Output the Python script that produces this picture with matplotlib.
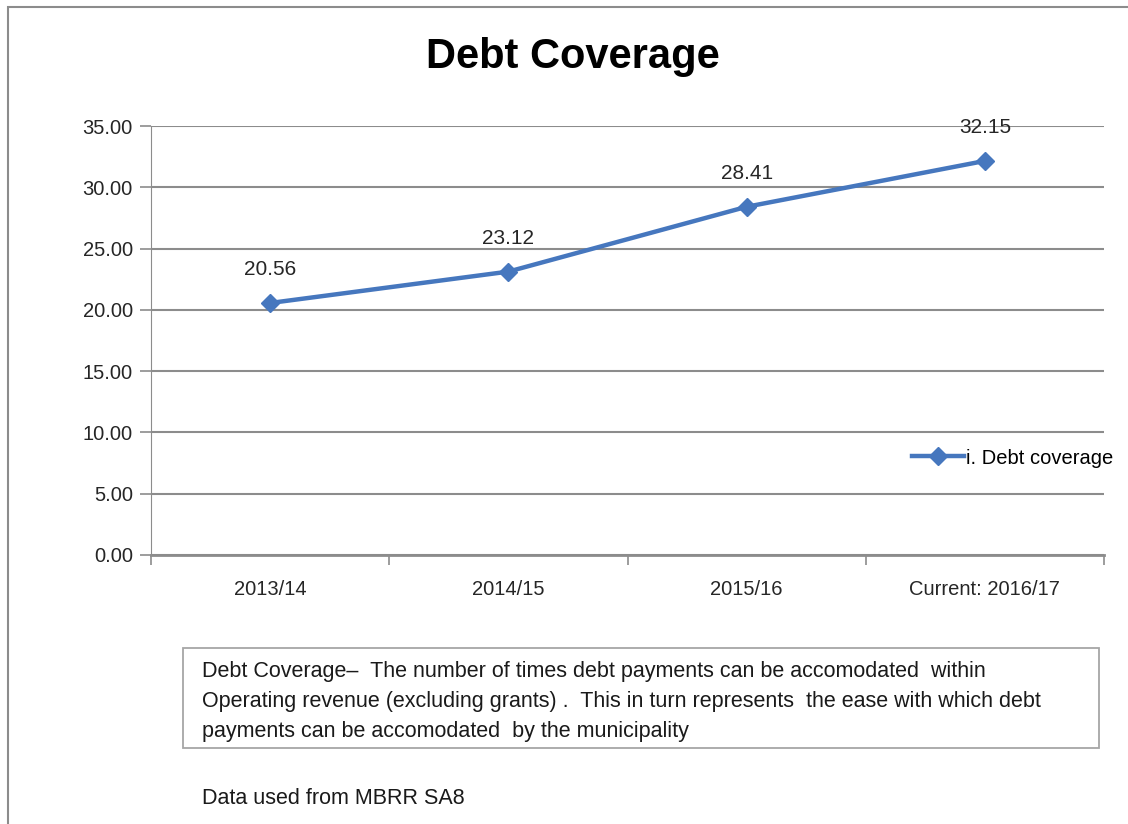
import matplotlib.pyplot as plt
from matplotlib.patches import Rectangle

years = ["2013/14", "2014/15", "2015/16", "Current: 2016/17"]
debt_coverage = [20.56, 23.12, 28.41, 32.15]
y_ticks = [0, 5, 10, 15, 20, 25, 30, 35]

plt.rcParams["font.family"] = ["Liberation Sans", "DejaVu Sans"]

W, H = 1128, 824
fig = plt.figure(figsize=(W / 100, H / 100), dpi=100)


def fx(px):
    return px / W


def fy(py):
    return 1 - py / H


# outer frame of the chart object
fig.patches.append(Rectangle((fx(8), fy(900)), fx(1200), fy(7) - fy(900),
                             transform=fig.transFigure, fill=False,
                             edgecolor="#8c8c8c", linewidth=1.5))

ax = fig.add_axes([fx(151), fy(555), fx(1104) - fx(151), fy(126) - fy(555)])
x = range(len(years))
line, = ax.plot(x, debt_coverage, color="#4677be", linewidth=3.2, marker="D",
                markersize=9, label="i. Debt coverage", zorder=3)
for xi, v in zip(x, debt_coverage):
    ax.annotate(f"{v:.2f}", (xi, v), xytext=(0, 24), textcoords="offset points",
                ha="center", va="center", fontsize=15, color="#262626")

ax.set_xlim(-0.5, len(years) - 0.5)
ax.set_ylim(0, 35)
ax.set_yticks(y_ticks)
ax.set_yticklabels([f"{t:.2f}" for t in y_ticks], fontsize=14.5, color="#262626")
ax.set_xticks(x)
ax.set_xticklabels(years, fontsize=14.5, color="#262626")
ax.tick_params(axis="x", length=0, pad=18)
ax.set_xticks([i - 0.5 for i in range(len(years) + 1)], minor=True)
ax.tick_params(axis="x", which="minor", length=7, color="#8c8c8c", width=1.2)
ax.tick_params(axis="y", length=8, color="#8c8c8c", width=1.2, pad=5)
ax.grid(axis="y", color="#8c8c8c", linewidth=1.5)
ax.set_axisbelow(True)
for s in ["top", "right"]:
    ax.spines[s].set_visible(False)
ax.spines["left"].set_color("#8c8c8c")
ax.spines["bottom"].set_color("#8c8c8c")
ax.spines["bottom"].set_linewidth(2)

fig.legend(handles=[line], loc="center left", bbox_to_anchor=(fx(912), fy(458)),
           frameon=False, fontsize=14.5, handlelength=2.6, handletextpad=0.1,
           borderaxespad=0, borderpad=0)

fig.text(0.508, fy(57), "Debt Coverage", ha="center", va="center",
         fontsize=30, fontweight="bold")

# description box
fig.patches.append(Rectangle((fx(183), fy(748)), fx(1099) - fx(183), fy(648) - fy(748),
                             transform=fig.transFigure, fill=False,
                             edgecolor="#a6a6a6", linewidth=1.3))
desc = ["Debt Coverage\u2013  The number of times debt payments can be accomodated  within",
        "Operating revenue (excluding grants) .  This in turn represents  the ease with which debt",
        "payments can be accomodated  by the municipality"]
for i, line_txt in enumerate(desc):
    fig.text(fx(202), fy(671 + 30 * i), line_txt, ha="left", va="center",
             fontsize=15.5, color="#1a1a1a")

fig.text(fx(202), fy(798), "Data used from MBRR SA8", ha="left", va="center",
         fontsize=15.5, color="#1a1a1a")

fig.savefig("out.png", dpi=100)
